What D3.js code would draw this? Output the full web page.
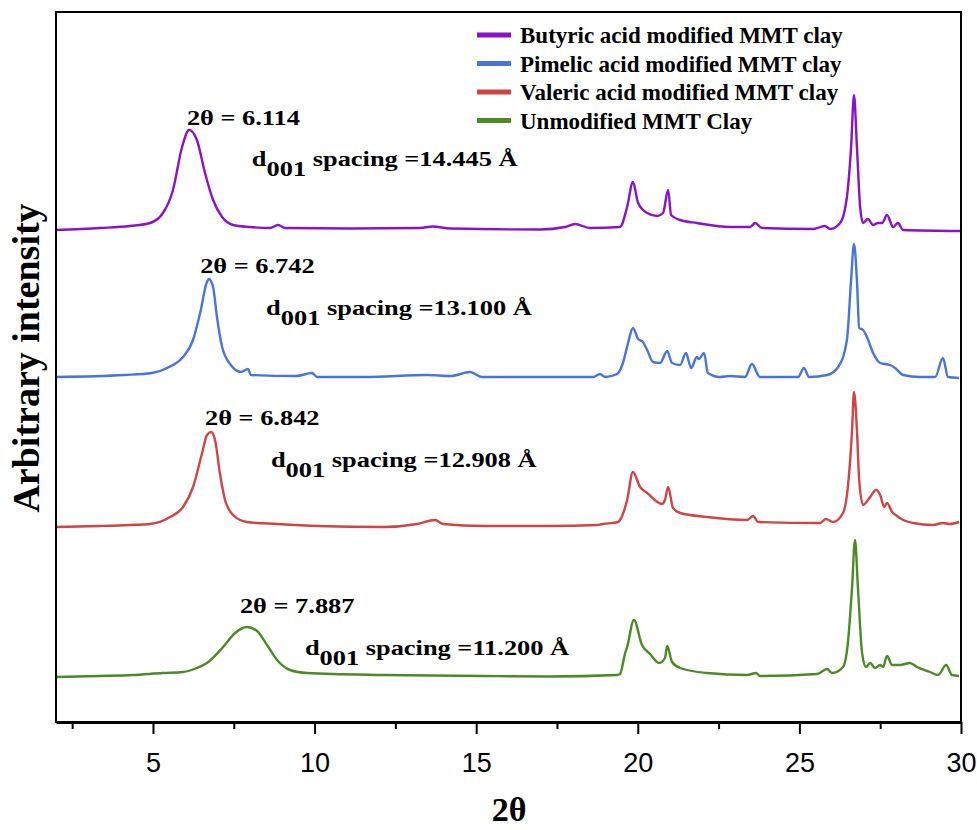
<!DOCTYPE html>
<html lang="en">
<head>
<meta charset="utf-8">
<title>XRD - MMT clay</title>
<script src="https://cdn.jsdelivr.net/npm/d3@7"></script>
<style>
  body { margin: 0; background: #fff; }
</style>
</head>
<body>
<div id="chart"></div>
<script>
// legend order, top to bottom
const seriesNames = ["Butyric acid modified MMT clay", "Pimelic acid modified MMT clay",
                     "Valeric acid modified MMT clay", "Unmodified MMT Clay"];

// baseline offset of each stacked pattern (a.u.)
const offsets = [491, 345, 195, 45];

// [2θ, intensity above baseline (a.u.)]
const butyric = [[2.00,1],[3.36,3],[4.29,5],[4.91,8],[5.31,18],[5.62,41],[5.90,84],[6.12,101],[6.36,91],
  [6.61,58],[6.86,31],[7.14,14],[7.48,6],[8.00,4],[8.62,3],[8.87,6],[9.09,3],[11.10,2.5],[13.26,3],
  [13.66,4.5],[14.19,2.5],[16.98,1.5],[17.75,4],[18.06,7],[18.52,3],[19.45,4],[19.67,24],[19.85,49],
  [20.01,28],[20.29,18],[20.60,15],[20.78,18],[20.94,41],[21.03,16],[21.31,11],[21.83,8],[22.85,4],
  [23.47,4],[23.63,8],[23.84,3],[25.42,2],[25.79,5],[25.95,2],[26.26,8],[26.47,34],[26.60,84],
  [26.69,136],[26.78,84],[26.88,24],[26.97,8],[27.12,12],[27.28,6],[27.43,8],[27.56,8],[27.71,16],
  [27.90,4],[28.05,8],[28.21,1],[29.97,0]];

const pimelic = [[2.00,0],[4.10,2],[4.97,4],[5.50,10],[5.93,20],[6.24,37],[6.46,64],[6.67,95],[6.73,98],
  [6.86,90],[6.98,60],[7.14,30],[7.41,12],[7.72,5],[7.94,8],[8.03,2],[9.43,1],[9.92,4],[10.08,0],
  [11.56,0],[13.48,2],[14.22,1],[14.81,5],[15.18,0],[18.62,0],[18.83,3],[18.99,0],[19.36,3],[19.54,14],
  [19.70,34],[19.85,49],[20.01,38],[20.16,35],[20.29,27],[20.47,15],[20.69,14],[20.91,26],[21.06,14],
  [21.31,12],[21.49,24],[21.65,9],[21.83,20],[21.89,18],[22.05,24],[22.17,4],[22.54,0],[22.85,1],
  [23.32,0],[23.53,13],[23.78,0],[24.96,0],[25.14,9],[25.30,0],[25.86,2],[26.20,10],[26.47,37],
  [26.60,97],[26.69,133],[26.78,97],[26.85,49],[26.97,47],[27.09,40],[27.28,24],[27.50,14],[27.80,12],
  [27.96,9],[28.21,2],[28.73,0],[29.20,0],[29.44,19],[29.60,0],[29.94,-1]];

const valeric = [[2.00,0],[3.36,1],[4.29,2],[4.91,3],[5.53,10],[5.93,20],[6.24,40],[6.52,74],[6.67,92],
  [6.80,95],[6.92,87],[7.07,54],[7.23,27],[7.48,12],[7.91,5],[8.84,3],[10.08,1],[12.12,0],[13.17,3],
  [13.73,7],[13.97,3],[15.21,1],[17.28,1],[18.74,2],[18.92,3],[19.39,5],[19.45,7],[19.67,27],[19.85,55],
  [20.07,40],[20.29,34],[20.75,23],[20.84,27],[20.94,40],[21.09,19],[21.31,14],[22.14,10],[23.38,7],
  [23.57,11],[23.72,5],[25.64,4],[25.82,8],[26.04,5],[26.35,14],[26.50,40],[26.63,97],[26.69,135],
  [26.78,97],[26.85,47],[26.97,22],[27.19,30],[27.37,37],[27.50,32],[27.62,20],[27.71,24],[27.87,15],
  [28.02,11],[28.21,7],[28.52,4],[29.13,2],[29.44,4],[29.66,3],[29.94,5]];

const unmodified = [[2.00,0],[3.36,1],[4.38,2],[5.31,4],[5.93,5],[6.36,9],[6.67,14],[7.17,30],[7.54,44],
  [7.91,50],[8.22,46],[8.53,32],[8.84,17],[9.24,7],[9.77,4],[12.12,2],[15.21,1],[17.28,0.5],[19.36,2],
  [19.45,3],[19.61,24],[19.67,30],[19.88,57],[20.13,32],[20.38,23],[20.66,14],[20.84,19],[20.91,31],
  [21.06,15],[21.31,9],[22.14,4],[23.38,2],[23.66,4],[23.78,1],[25.55,3],[25.86,8],[26.01,4],[26.35,10],
  [26.50,34],[26.63,90],[26.72,137],[26.81,90],[26.94,24],[27.06,10],[27.19,14],[27.34,9],[27.50,12],
  [27.59,10],[27.71,21],[27.87,12],[28.11,12],[28.42,14],[28.64,10],[29.04,5],[29.29,2],[29.54,12],
  [29.72,2],[29.94,1]];

const series = [butyric, pimelic, valeric, unmodified];

// annotation texts
const peakPos  = ["6.114", "6.742", "6.842", "7.887"];
const dSpacing = ["14.445", "13.100", "12.908", "11.200"];

// axis ticks
const xTicks = [5, 10, 15, 20, 25, 30];
const xMinorTicks = [2.5, 7.5, 12.5, 17.5, 22.5, 27.5];

// ---- styles / layout ----
const colors = ["#8A12C9", "#4775DB", "#D14444", "#4C8A24"];
// where the annotations sit, in [2θ, a.u.]
const peakLabelAt = [[6.05, 597], [6.46, 449], [6.61, 297], [7.69, 109]];
const dLabelAt    = [[8.06, 556], [8.50, 407], [8.65, 255], [9.70, 67]];

const width = 977, height = 830;
const margin = {left: 56, right: 961, top: 12, bottom: 722};
const serif = "'Liberation Serif','Times New Roman',serif";

const svg = d3.select("#chart").append("svg")
    .attr("width", width)
    .attr("height", height);

const x = d3.scaleLinear().domain([2, 30]).range([margin.left, margin.right]);
const y = d3.scaleLinear().domain([0, 710]).range([margin.bottom, margin.top]);

// patterns
const line = d3.line().curve(d3.curveMonotoneX);
series.forEach((s, i) => {
    svg.append("path")
        .attr("fill", "none")
        .attr("stroke", colors[i])
        .attr("stroke-width", 2.4)
        .attr("stroke-linejoin", "round")
        .attr("d", line.x(d => x(d[0])).y(d => y(d[1] + offsets[i]))(s));
});

// frame
svg.append("rect")
    .attr("x", margin.left).attr("y", margin.top)
    .attr("width", margin.right - margin.left).attr("height", margin.bottom - margin.top)
    .attr("fill", "none").attr("stroke", "#000").attr("stroke-width", 2);

// x axis (major + minor)
const xAxis = svg.append("g")
    .attr("transform", `translate(0,${margin.bottom})`)
    .call(d3.axisBottom(x).tickValues(xTicks).tickSize(12).tickSizeOuter(0));
xAxis.select(".domain").attr("stroke-width", 3);
xAxis.selectAll(".tick line").attr("stroke-width", 2);
xAxis.selectAll(".tick text")
    .attr("y", 50).attr("dy", 0)
    .attr("font-family", "'Liberation Sans',Arial,sans-serif")
    .attr("font-size", 27);

svg.append("g")
    .attr("transform", `translate(0,${margin.bottom})`)
    .call(d3.axisBottom(x).tickValues(xMinorTicks).tickSize(7).tickFormat(""))
    .call(g => g.select(".domain").remove())
    .selectAll(".tick line").attr("stroke-width", 2);

// axis titles
svg.append("text")
    .attr("x", 509).attr("y", 821)
    .attr("text-anchor", "middle")
    .attr("font-family", serif).attr("font-weight", "bold").attr("font-size", 34)
    .text("2θ");

svg.append("text")
    .attr("transform", "translate(39,358) rotate(-90)")
    .attr("text-anchor", "middle")
    .attr("font-family", serif).attr("font-weight", "bold").attr("font-size", 38)
    .text("Arbitrary intensity");

// legend
const legend = svg.append("g")
    .attr("font-family", serif).attr("font-weight", "bold").attr("font-size", 23);
seriesNames.forEach((name, i) => {
    const cy = 35 + i * 28.5;
    legend.append("line")
        .attr("x1", 477).attr("x2", 511).attr("y1", cy).attr("y2", cy)
        .attr("stroke", colors[i]).attr("stroke-width", 5);
    legend.append("text")
        .attr("x", 520).attr("y", cy + 8)
        .text(name);
});

// peak annotations
const ann = svg.append("g")
    .attr("font-family", serif).attr("font-weight", "bold").attr("font-size", 22);
peakPos.forEach((p, i) => {
    ann.append("text")
        .attr("transform", `translate(${x(peakLabelAt[i][0])},${y(peakLabelAt[i][1])}) scale(1.2,1)`)
        .text("2θ = " + p);
    const t = ann.append("text")
        .attr("transform", `translate(${x(dLabelAt[i][0])},${y(dLabelAt[i][1])}) scale(1.2,1)`);
    t.append("tspan").text("d");
    t.append("tspan").attr("dy", 10).text("001");
    t.append("tspan").attr("dy", -10).text(" spacing =" + dSpacing[i] + " Å");
});
</script>
</body>
</html>
